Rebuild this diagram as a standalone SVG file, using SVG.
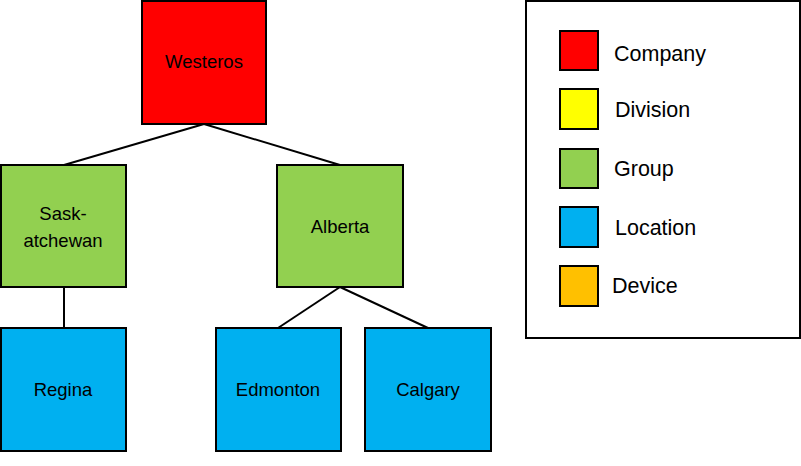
<svg xmlns="http://www.w3.org/2000/svg" width="801" height="466" viewBox="0 0 801 466">
<style>
.box{stroke:#000;stroke-width:2}
.lbl{font-family:"Liberation Sans",Arial,sans-serif;font-size:18.5px;fill:#000;text-anchor:middle}
.leg{font-family:"Liberation Sans",Arial,sans-serif;font-size:21.5px;fill:#000}
.conn{stroke:#000;stroke-width:2;fill:none}
</style>
<rect width="801" height="466" fill="#fff"/>
<g id="connectors">
<line class="conn" x1="204" y1="124" x2="64" y2="165"/>
<line class="conn" x1="204" y1="124" x2="340" y2="165"/>
<line class="conn" x1="64" y1="287" x2="64" y2="328"/>
<line class="conn" x1="340" y1="287" x2="278" y2="328"/>
<line class="conn" x1="340" y1="287" x2="428" y2="328"/>
</g>
<g id="westeros"><rect class="box" x="142" y="1" width="124" height="123" fill="#ff0000"/><text class="lbl" x="204" y="68">Westeros</text></g>
<g id="saskatchewan"><rect class="box" x="1" y="165" width="125" height="122" fill="#92d050"/><text class="lbl" x="63" y="220">Sask-</text><text class="lbl" x="63" y="247">atchewan</text></g>
<g id="alberta"><rect class="box" x="277" y="165" width="126" height="122" fill="#92d050"/><text class="lbl" x="340" y="233">Alberta</text></g>
<g id="regina"><rect class="box" x="1" y="328" width="125" height="123" fill="#00b0f0"/><text class="lbl" x="63" y="396">Regina</text></g>
<g id="edmonton"><rect class="box" x="216" y="328" width="125" height="123" fill="#00b0f0"/><text class="lbl" x="278" y="396">Edmonton</text></g>
<g id="calgary"><rect class="box" x="365" y="328" width="126" height="123" fill="#00b0f0"/><text class="lbl" x="428" y="396">Calgary</text></g>
<g id="legend">
<rect class="box" x="526" y="1" width="274" height="337" fill="#fff"/>
<rect class="box" x="560" y="31" width="38" height="39" fill="#ff0000"/><text class="leg" x="614" y="61">Company</text>
<rect class="box" x="560" y="89" width="38" height="40" fill="#ffff00"/><text class="leg" x="615" y="117">Division</text>
<rect class="box" x="560" y="149" width="38" height="39" fill="#92d050"/><text class="leg" x="614" y="176">Group</text>
<rect class="box" x="560" y="207" width="38" height="40" fill="#00b0f0"/><text class="leg" x="615" y="235">Location</text>
<rect class="box" x="560" y="266" width="38" height="40" fill="#ffc000"/><text class="leg" x="612" y="293">Device</text>
</g>
</svg>
